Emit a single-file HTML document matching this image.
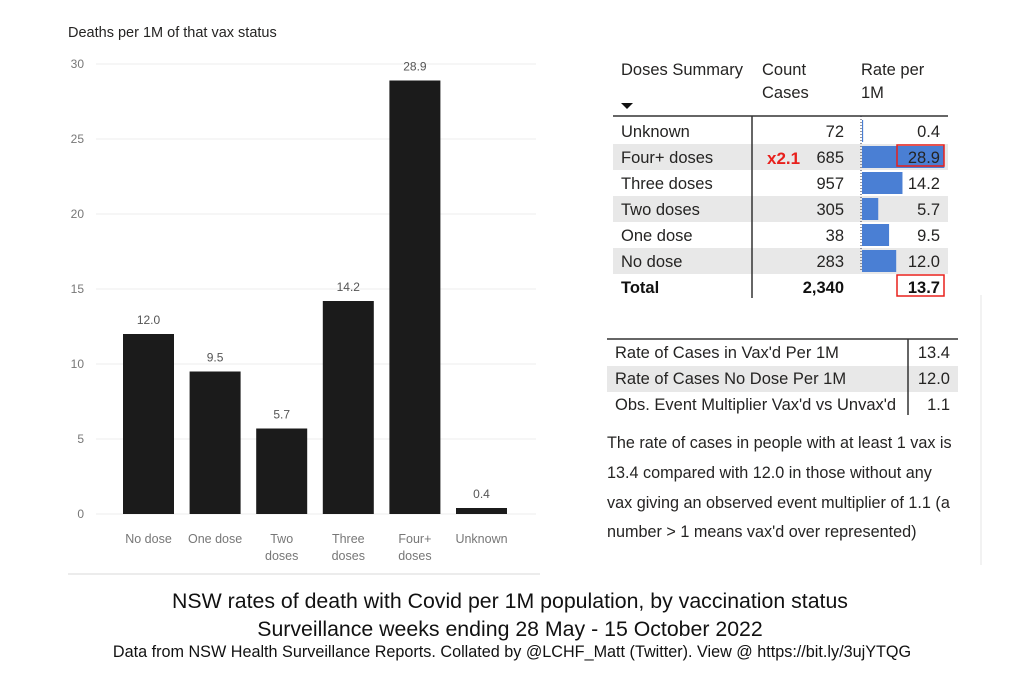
<!DOCTYPE html>
<html><head><meta charset="utf-8"><style>
html,body{margin:0;padding:0;background:#fff;}
svg{display:block;font-family:"Liberation Sans",sans-serif;}
</style></head><body>
<svg id="s" width="1024" height="683" viewBox="0 0 1024 683">
<text x="68" y="37" font-size="14.5" fill="#252423">Deaths per 1M of that vax status</text>
<g id="grid"></g>
<g id="bars"></g>
<line x1="68" y1="574" x2="540" y2="574" stroke="#e6e6e6" stroke-width="1.5"/>

<g id="tbl"></g>
<g id="tbl2"></g>
<line x1="981" y1="295" x2="981" y2="565" stroke="#eee" stroke-width="1.5"/>

<g font-size="16.2" fill="#252423">
<text x="607" y="448">The rate of cases in people with at least 1 vax is</text>
<text x="607" y="478">13.4 compared with 12.0 in those without any</text>
<text x="607" y="508">vax giving an observed event multiplier of 1.1 (a</text>
<text x="607" y="537">number &gt; 1 means vax'd over represented)</text>
</g>

<text x="510" y="608" text-anchor="middle" font-size="21.3" fill="#111">NSW rates of death with Covid per 1M population, by vaccination status</text>
<text x="510" y="636" text-anchor="middle" font-size="21.3" fill="#111">Surveillance weeks ending 28 May - 15 October 2022</text>
<text x="512" y="657" text-anchor="middle" font-size="16.2" fill="#111">Data from NSW Health Surveillance Reports. Collated by @LCHF_Matt (Twitter). View @ https://bit.ly/3ujYTQG</text>
</svg>
<script>
const categories = [["No dose"],["One dose"],["Two","doses"],["Three","doses"],["Four+","doses"],["Unknown"]];
const deathRates = [12.0, 9.5, 5.7, 14.2, 28.9, 0.4];
const yTicks = [0,5,10,15,20,25,30];
const tableLabels = ["Unknown","Four+ doses","Three doses","Two doses","One dose","No dose"];
const tableCounts = ["72","685","957","305","38","283"];
const tableRates = [0.4, 28.9, 14.2, 5.7, 9.5, 12.0];
const totalCount = "2,340";
const totalRate = "13.7";
const summaryLabels = ["Rate of Cases in Vax'd Per 1M","Rate of Cases No Dose Per 1M","Obs. Event Multiplier Vax'd vs Unvax'd"];
const summaryValues = ["13.4","12.0","1.1"];

const NS="http://www.w3.org/2000/svg";
function mk(tag,attrs,parent,txt){const e=document.createElementNS(NS,tag);for(const k in attrs)e.setAttribute(k,attrs[k]);if(txt!==undefined)e.textContent=txt;parent.appendChild(e);return e;}
const y=v=>514-v*15;
const x=i=>148.5+i*66.6;
const grid=document.getElementById('grid'), bars=document.getElementById('bars');
yTicks.forEach(t=>{
  const l=mk('line',{x1:96,x2:536,y1:y(t),y2:y(t),stroke:'#ececec','stroke-width':1},grid);
  
  
  const tx=mk('text',{x:84,y:y(t)+4,'text-anchor':'end','font-size':12,fill:'#777'},grid,String(t));
  
  
});
deathRates.forEach((v,i)=>{
  const r=mk('rect',{x:x(i)-25.5,y:y(v),width:51,height:514-y(v),fill:'#1b1b1b'},bars);
  
  
  const lb=mk('text',{x:x(i),y:y(v)-10,'text-anchor':'middle','font-size':12,fill:'#555'},bars,v.toFixed(1));
  
  
  categories[i].forEach((s,j)=>{
    const c=mk('text',{x:x(i),y:543+j*17,'text-anchor':'middle','font-size':12.5,fill:'#777'},bars,s);
    
    
  });
});

// Table 1
const tb=document.getElementById('tbl');
const hdr=[[621,"Doses Summary"],[762,"Count"],[861,"Rate per"]];
hdr.forEach(h=>{const t=mk('text',{x:h[0],y:75,'font-size':16.5,fill:'#252423'},tb,h[1]);});
[[762,"Cases"],[861,"1M"]].forEach(h=>{const t=mk('text',{x:h[0],y:98,'font-size':16.5,fill:'#252423'},tb,h[1]);});
const tri=mk('path',{d:'M621 103 L633 103 L627 109 Z',fill:'#111'},tb);


const rowY=i=>118+i*26;
tableLabels.forEach((lab,i)=>{
  if(i%2===1){const bg=mk('rect',{x:613,y:rowY(i),width:335,height:26,fill:'#e8e8e8'},tb);}
});
tableRates.forEach((v,i)=>{
  const b=mk('rect',{x:862,y:rowY(i)+2,width:v*2.85,height:22,fill:'#4a7fd4'},tb);
  
  
});
tableLabels.forEach((lab,i)=>{
  const by=rowY(i)+19;
  const a=mk('text',{x:621,y:by,'font-size':16.5,fill:'#252423'},tb,lab);
  const c=mk('text',{x:844,y:by,'text-anchor':'end','font-size':16.5,fill:'#252423'},tb,tableCounts[i]);
  const r=mk('text',{x:940,y:by,'text-anchor':'end','font-size':16.5,fill:'#252423'},tb,tableRates[i].toFixed(1));
});
const tY=rowY(6)+19;
let t=mk('text',{x:621,y:tY,'font-size':16.5,'font-weight':'bold',fill:'#111'},tb,'Total');
t=mk('text',{x:844,y:tY,'text-anchor':'end','font-size':16.5,'font-weight':'bold',fill:'#111'},tb,totalCount);
t=mk('text',{x:940,y:tY,'text-anchor':'end','font-size':16.5,'font-weight':'bold',fill:'#111'},tb,totalRate);
t=mk('text',{x:767,y:rowY(1)+20,'font-size':17,'font-weight':'bold',fill:'#e8201c'},tb,'x2.1');
let l=mk('line',{x1:613,x2:948,y1:116,y2:116,stroke:'#333','stroke-width':1.5},tb);
l=mk('line',{x1:752,x2:752,y1:116,y2:298,stroke:'#333','stroke-width':1.5},tb);
l=mk('line',{x1:861,x2:861,y1:116,y2:272,stroke:'#334','stroke-width':1,'stroke-dasharray':'1 2'},tb);
let rb=mk('rect',{x:897,y:145,width:47,height:21,fill:'none',stroke:'#e8201c','stroke-width':1.5},tb);
rb=mk('rect',{x:897,y:275,width:47,height:21,fill:'none',stroke:'#e8201c','stroke-width':1.5},tb);

// Table 2
const t2=document.getElementById('tbl2');
let bg=mk('rect',{x:607,y:366,width:351,height:26,fill:'#e8e8e8'},t2);
summaryLabels.forEach((s,i)=>{
  const yy=358+i*26;
  const a=mk('text',{x:615,y:yy,'font-size':16.5,fill:'#252423'},t2,s);
  const b=mk('text',{x:950,y:yy,'text-anchor':'end','font-size':16.5,fill:'#252423'},t2,summaryValues[i]);
});
l=mk('line',{x1:607,x2:958,y1:339,y2:339,stroke:'#333','stroke-width':1.5},t2);
l=mk('line',{x1:908,x2:908,y1:339,y2:415,stroke:'#333','stroke-width':1.5},t2);
</script>
</body></html>
